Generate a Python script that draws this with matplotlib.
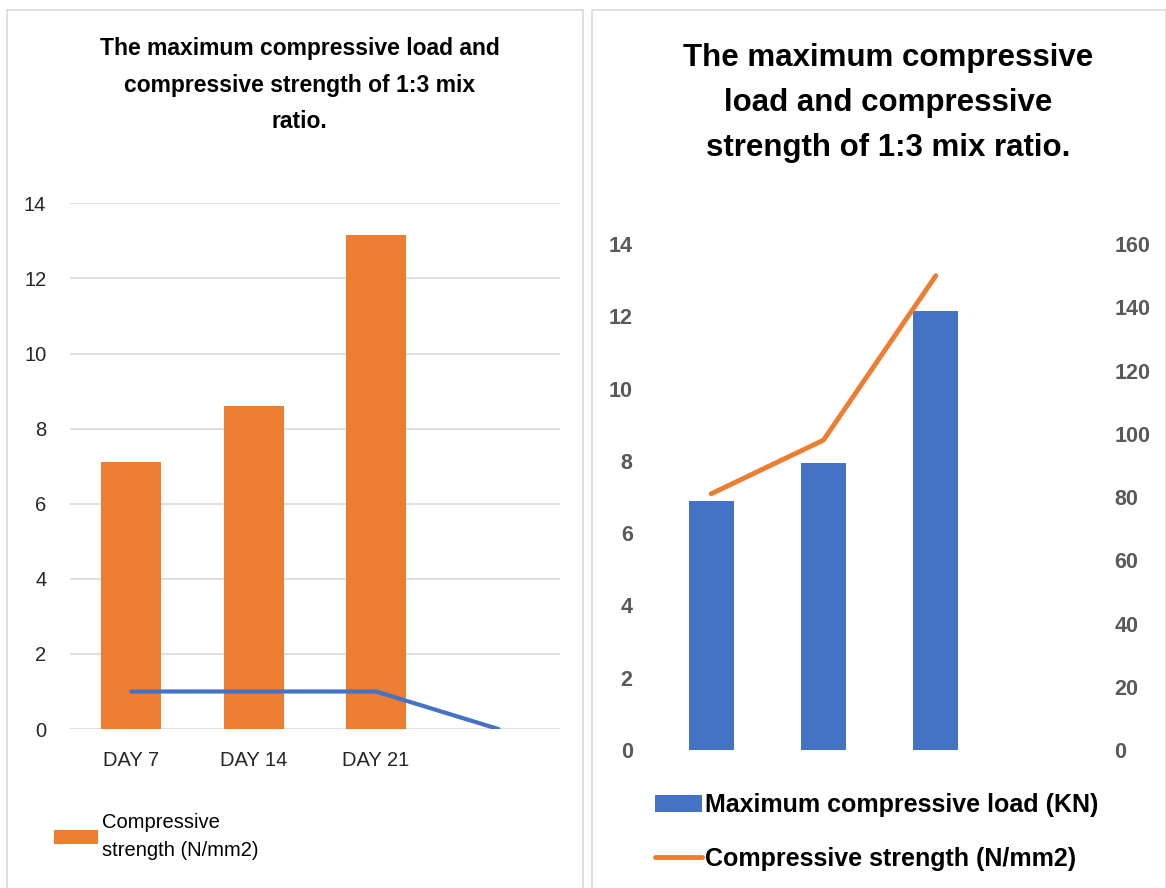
import numpy as np
import matplotlib
matplotlib.use("Agg")
import matplotlib.pyplot as plt
from matplotlib import font_manager
from matplotlib.patches import Rectangle

names = {f.name for f in font_manager.fontManager.ttflist}
base = 'Liberation Sans Narrow' if 'Liberation Sans Narrow' in names else 'Liberation Sans'
plt.rcParams['font.family'] = [base, 'DejaVu Sans']

# left panel data
days_left   = ["DAY 7", "DAY 14", "DAY 21", ""]
strength_l  = [7.1, 8.6, 13.15]
load_l      = [1, 1, 1, 0]

# right panel data
load_r      = [6.9, 7.95, 12.15]
strength_r  = [81, 98, 150]

orange = "#ED7D31"
blue   = "#4472C4"

fig = plt.figure(figsize=(11.66, 8.88), dpi=100)

# panel frames
for x0, w in [(0.006, 0.494), (0.508, 0.492)]:
    fig.add_artist(Rectangle((x0, -0.01), w, 0.999, transform=fig.transFigure,
                             fill=False, edgecolor="#d9d9d9", lw=1.2))

# ---- left chart ----
ax1 = fig.add_axes([0.060, 0.179, 0.420, 0.592])
x = np.arange(len(days_left))
b1 = ax1.bar(x[:3], strength_l, width=0.49, color=orange, zorder=2,
             label="Compressive\nstrength (N/mm2)")
ax1.plot(x, load_l, color=blue, lw=3, zorder=3, solid_capstyle='round')
ax1.set_xlim(-0.5, 3.5)
ax1.set_ylim(0, 14)
ax1.set_yticks(range(0, 15, 2))
ax1.set_xticks(x)
ax1.set_xticklabels(days_left)
ax1.grid(axis='y', color="#d9d9d9", lw=1.2, zorder=0)
for s in ax1.spines.values():
    s.set_visible(False)
ax1.tick_params(length=0, labelsize=14.5, colors="#262626")
ax1.tick_params(axis='x', pad=16)
ax1.tick_params(axis='y', pad=17)
fig.text(0.257, 0.958, "The maximum compressive load and\ncompressive strength of 1:3 mix\nratio.",
         ha='center', va='top', fontsize=16.5, fontweight='bold', linespacing=1.74)
leg1 = fig.legend(handles=[b1], loc='upper left', bbox_to_anchor=(0.039, 0.093),
                  frameon=False, prop={'size': 14.5}, handlelength=2.2, handleheight=0.7,
                  handletextpad=0.2, borderaxespad=0)
for t in leg1.get_texts():
    t.set_linespacing(1.55)

# ---- right chart ----
ax2 = fig.add_axes([0.5617, 0.1554, 0.2891, 0.5698])
xr = np.arange(len(load_r))
b2 = ax2.bar(xr, load_r, width=0.4, color=blue, zorder=2,
             label="Maximum compressive load (KN)")
ax2.set_xlim(-0.5, 2.5)
ax2.set_ylim(0, 14)
ax2.set_yticks(range(0, 15, 2))
ax2.set_xticks([])
ax3 = ax2.twinx()
l2, = ax3.plot(xr, strength_r, color=orange, lw=3.5, solid_capstyle='round',
               label="Compressive strength (N/mm2)")
ax3.set_ylim(0, 160)
ax3.set_yticks(range(0, 161, 20))
for a in (ax2, ax3):
    for s in a.spines.values():
        s.set_visible(False)
    a.tick_params(length=0, labelsize=15.5, colors="#595959")
    for t in a.get_yticklabels():
        t.set_fontweight('bold')
ax2.tick_params(axis='y', pad=16)
ax3.tick_params(axis='y', pad=88)
fig.text(0.762, 0.952, "The maximum compressive\nload and compressive\nstrength of 1:3 mix ratio.",
         ha='center', va='top', fontsize=22.5, fontweight='bold', linespacing=1.66)
fig.legend(handles=[b2, l2], loc='upper left', bbox_to_anchor=(0.553, 0.118),
           frameon=False, prop={'size': 18, 'weight': 'bold'}, handlelength=1.9,
           handleheight=0.7, handletextpad=0.12, labelspacing=1.2, borderaxespad=0)

fig.savefig("out.png", dpi=100)
